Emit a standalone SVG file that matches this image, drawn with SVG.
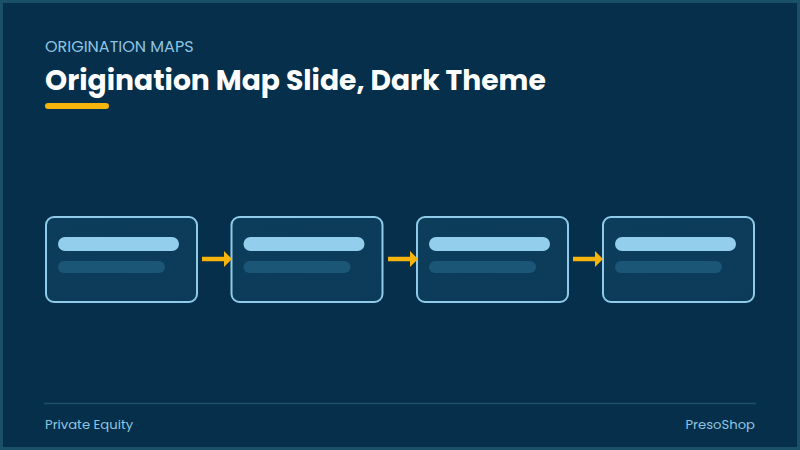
<svg xmlns="http://www.w3.org/2000/svg" width="800" height="450" viewBox="0 0 800 450">
<defs>
<style>
.node rect.card{fill:url(#cardg);stroke:#8fcbe8;stroke-width:2}
.bar1{fill:#93cfec}
.bar2{fill:#1b5676}
.conn line{stroke:#f6b40c;stroke-width:4.5}
.t{font-family:Poppins,"Open Sans","Liberation Sans",sans-serif}
</style>
<linearGradient id="cardg" x1="0" y1="0" x2="1" y2="1">
<stop offset="0" stop-color="#0c3d5a"/>
<stop offset="1" stop-color="#0b3b58"/>
</linearGradient>
<marker id="ah" viewBox="0 0 8 16" refX="0" refY="8" markerWidth="8" markerHeight="16" markerUnits="userSpaceOnUse" orient="auto">
<path d="M0,0 L8,8 L0,16 z" fill="#f6b40c"/>
</marker>
</defs>
<rect x="0" y="0" width="800" height="450" fill="#1b5069"/>
<rect x="3" y="3" width="794" height="444" fill="#052f4a"/>
<g id="header">
<text class="t" x="45" y="52" font-size="16" fill="#8fc4e0">ORIGINATION MAPS</text>
<text class="t" x="45" y="90" font-size="28.2" font-weight="700" fill="#ffffff">Origination Map Slide, Dark Theme</text>
<rect x="45" y="103" width="64" height="6" rx="3" fill="#f6b40c"/>
</g>
<g id="node1" class="node">
<rect class="card" x="46" y="217" width="151" height="85" rx="8"/>
<rect class="bar1" x="58" y="237" width="121" height="14" rx="7"/>
<rect class="bar2" x="58" y="261" width="107" height="12" rx="6"/>
</g>
<g id="node2" class="node">
<rect class="card" x="231.5" y="217" width="151" height="85" rx="8"/>
<rect class="bar1" x="243.5" y="237" width="121" height="14" rx="7"/>
<rect class="bar2" x="243.5" y="261" width="107" height="12" rx="6"/>
</g>
<g id="node3" class="node">
<rect class="card" x="417" y="217" width="151" height="85" rx="8"/>
<rect class="bar1" x="429" y="237" width="121" height="14" rx="7"/>
<rect class="bar2" x="429" y="261" width="107" height="12" rx="6"/>
</g>
<g id="node4" class="node">
<rect class="card" x="603" y="217" width="151" height="85" rx="8"/>
<rect class="bar1" x="615" y="237" width="121" height="14" rx="7"/>
<rect class="bar2" x="615" y="261" width="107" height="12" rx="6"/>
</g>
<g id="connectors" class="conn">
<line x1="202" y1="259" x2="224" y2="259" marker-end="url(#ah)"/>
<line x1="388" y1="259" x2="410" y2="259" marker-end="url(#ah)"/>
<line x1="573" y1="259" x2="595" y2="259" marker-end="url(#ah)"/>
</g>
<g id="footer">
<line x1="44" y1="403.5" x2="756" y2="403.5" stroke="#1d4f68" stroke-width="1.5"/>
<text class="t" x="45" y="429" font-size="13.2" fill="#8fc4e0">Private Equity</text>
<text class="t" x="755" y="429" font-size="13.2" fill="#8fc4e0" text-anchor="end">PresoShop</text>
</g>
</svg>
